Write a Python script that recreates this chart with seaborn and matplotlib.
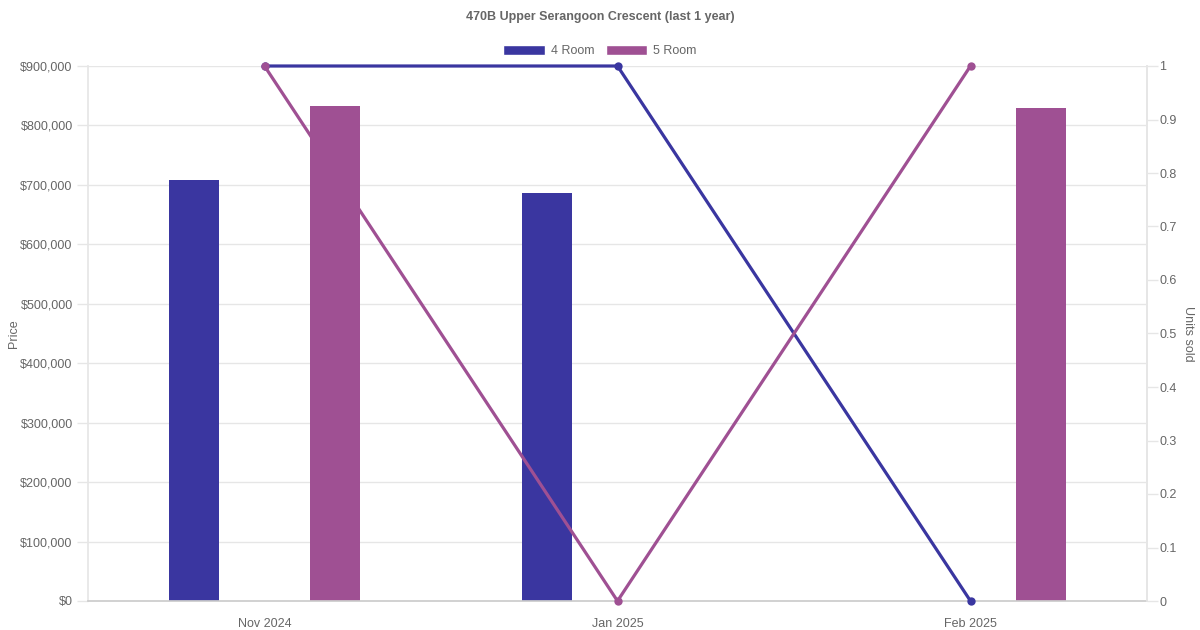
import matplotlib
matplotlib.use("Agg")
import matplotlib.pyplot as plt
import seaborn as sns
import pandas as pd
from matplotlib.ticker import FuncFormatter, MultipleLocator
from matplotlib.patches import Patch

months = ["Nov 2024", "Jan 2025", "Feb 2025"]
price_4room = [708000, 687000, None]
price_5room = [833000, None, 830000]
units_4room = [1, 1, 0]
units_5room = [1, 0, 1]

c4 = "#3a36a0"
c5 = "#9f5093"
txt = "#666666"
grid = "#e6e6e6"

sns.set_theme(style="white")
plt.rcParams['font.family'] = ['Liberation Sans', 'DejaVu Sans']

bars = pd.DataFrame({
    "Month": months * 2,
    "Type": ["4 Room"] * 3 + ["5 Room"] * 3,
    "Price": price_4room + price_5room,
})
lines = pd.DataFrame({
    "Month": months * 2,
    "Type": ["4 Room"] * 3 + ["5 Room"] * 3,
    "Units": units_4room + units_5room,
})

fig = plt.figure(figsize=(12, 6.3), dpi=100)
ax = fig.add_axes([88/1200, 1-601/630, (1147-88)/1200, (601-66)/630])
sns.barplot(data=bars, x="Month", y="Price", hue="Type", order=months,
            hue_order=["4 Room", "5 Room"], palette=[c4, c5], width=0.8,
            dodge=True, ax=ax, legend=False, saturation=1)
# narrow bars to fixed thickness (~50px)
bw = 50/353
for p in ax.patches:
    cx = p.get_x() + p.get_width()/2
    p.set_width(bw)
    p.set_x(cx - bw/2)
    p.set_linewidth(0)

ax.set_xlim(-0.5, 2.5)
ax.set_ylim(0, 900000)
ax.yaxis.set_major_locator(MultipleLocator(100000))
ax.yaxis.set_major_formatter(FuncFormatter(lambda v, _: f"${v:,.0f}"))
ax.grid(axis="y", color=grid, linewidth=1)
ax.set_axisbelow(True)
ax.set_xlabel("")
ax.set_ylabel("Price", color=txt, fontsize=9, labelpad=0)
ax.tick_params(axis="y", colors=grid, labelcolor=txt, labelsize=9, length=8, width=1, direction="out", pad=3, left=True)
ax.tick_params(axis="x", labelcolor=txt, labelsize=9, length=0, pad=12)
ax.spines["top"].set_visible(False)
ax.spines["left"].set_color(grid)
ax.spines["right"].set_color(grid)
ax.spines["bottom"].set_color("#cccccc")

ax2 = ax.twinx()
sns.lineplot(data=lines, x="Month", y="Units", hue="Type", hue_order=["4 Room", "5 Room"],
             palette=[c4, c5], marker="o", markersize=6, markeredgewidth=0,
             linewidth=2.3, ax=ax2, legend=False, sort=False)
ax2.set_xlim(-0.5, 2.5)
ax2.set_ylim(0, 1)
ax2.yaxis.set_major_locator(MultipleLocator(0.1))
ax2.yaxis.set_major_formatter(FuncFormatter(lambda v, _: f"{int(round(v))}" if abs(v) < 1e-9 or abs(v-1) < 1e-9 else f"{v:.1f}"))
ax2.set_ylabel("Units sold", color=txt, fontsize=9, rotation=270, labelpad=12)
ax2.tick_params(axis="y", colors=grid, labelcolor=txt, labelsize=9, length=8, width=1, direction="out", pad=1, right=True)
for s in ["top", "left", "bottom"]:
    ax2.spines[s].set_visible(False)
ax2.spines["right"].set_color(grid)
for l in ax2.lines:
    l.set_clip_on(False)

fig.text(0.5, 1-17/630, "470B Upper Serangoon Crescent (last 1 year)", ha="center", va="center",
         fontsize=9, fontweight="bold", color=txt)
handles = [Patch(facecolor=c4, label="4 Room"), Patch(facecolor=c5, label="5 Room")]
fig.legend(handles=handles, loc="center", bbox_to_anchor=(0.5, 1-51/630), ncol=2, frameon=False,
           fontsize=9, labelcolor=txt, handlelength=3.3, handleheight=0.9, columnspacing=0.9, handletextpad=0.5)

fig.savefig("out.png", dpi=100)
